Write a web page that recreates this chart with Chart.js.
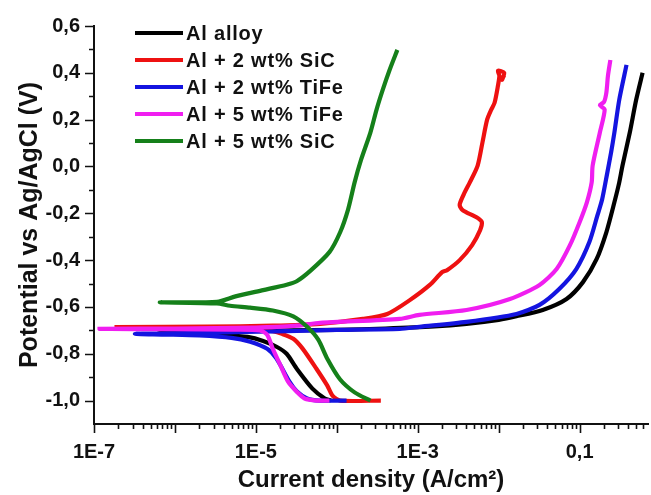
<!DOCTYPE html>
<html>
<head>
<meta charset="utf-8">
<script src="https://cdn.jsdelivr.net/npm/chart.js@4.4.1/dist/chart.umd.min.js"></script>
<style>
  html, body { margin: 0; padding: 0; background: #fff; }
  #wrap { width: 651px; height: 495px; }
</style>
</head>
<body>
<div id="wrap"><canvas id="chart"></canvas></div>
<script>
// series labels and colours
const seriesLabels = ['Al alloy', 'Al + 2 wt% SiC', 'Al + 2 wt% TiFe', 'Al + 5 wt% TiFe', 'Al + 5 wt% SiC'];
const seriesColors = ['#000000', '#ee1111', '#1414e0', '#f01ef0', '#15801a'];

// axis ticks
const xTickVals = [1e-7, 1e-5, 1e-3, 1e-1];
const xTickLabels = ['1E-7', '1E-5', '1E-3', '0,1'];
const yTickVals = [-1.0, -0.8, -0.6, -0.4, -0.2, 0.0, 0.2, 0.4, 0.6];
const yTickLabels = ['-1,0', '-0,8', '-0,6', '-0,4', '-0,2', '0,0', '0,2', '0,4', '0,6'];

// Al alloy: current density (A/cm2) and potential (V), in scan order
const alloyI = [8.5e-5, 7.1e-5, 5.0e-5, 3.2e-5, 2.4e-5, 1.8e-5, 1.23e-5, 7.9e-6, 4.0e-6, 1.6e-6, 6.3e-7,
  1.6e-6, 6.3e-6, 2.5e-5, 1.0e-4, 4.0e-4, 1.6e-3, 4.0e-3, 1.0e-2, 1.66e-2, 3.5e-2, 6.9e-2, 0.11, 0.162, 0.214, 0.269, 0.309, 0.339, 0.417, 0.50, 0.60];
const alloyE = [-1.0, -0.991, -0.949, -0.864, -0.80, -0.77, -0.745, -0.728, -0.72, -0.715, -0.712,
  -0.709, -0.705, -0.70, -0.698, -0.692, -0.683, -0.672, -0.655, -0.640, -0.613, -0.566, -0.494, -0.396, -0.281, -0.153, -0.068, 0.004, 0.145, 0.285, 0.40];

// Al + 2 wt% SiC
const sic2I = [3.5e-4, 1.1e-4, 8.9e-5, 7.6e-5, 5.6e-5, 3.8e-5, 2.9e-5, 2.1e-5, 1.62e-5, 1.0e-5, 2.5e-6, 1.9e-7,
  2.5e-6, 1.62e-5, 6.2e-5, 2.1e-4, 4.2e-4, 7.9e-4, 1.41e-3, 2.0e-3, 2.3e-3, 3.3e-3, 4.7e-3, 5.9e-3, 6.2e-3, 5.6e-3,
  4.8e-3, 4.0e-3, 3.5e-3, 3.3e-3, 3.8e-3, 4.4e-3, 5.5e-3, 6.3e-3, 7.2e-3, 8.1e-3, 8.9e-3, 9.8e-3, 1.02e-2, 9.8e-3, 1.17e-2, 1.1e-2, 1.17e-2];
const sic2E = [-1.0, -1.0, -0.98, -0.935, -0.864, -0.779, -0.736, -0.715, -0.704, -0.695, -0.690, -0.686,
  -0.684, -0.680, -0.672, -0.651, -0.630, -0.572, -0.506, -0.451, -0.443, -0.40, -0.336, -0.272, -0.238, -0.222,
  -0.209, -0.196, -0.183, -0.162, -0.111, -0.068, 0.004, 0.102, 0.200, 0.243, 0.272, 0.345, 0.387, 0.409, 0.40, 0.37, 0.39];

// Al + 2 wt% TiFe
const tife2I = [1.32e-4, 6.2e-5, 4.3e-5, 3.2e-5, 2.6e-5, 1.8e-5, 1.38e-5, 8.5e-6, 5.0e-6, 2.0e-6, 7.9e-7, 3.2e-7,
  7.9e-7, 3.2e-6, 1.0e-5, 3.2e-5, 1.0e-4, 6.0e-4, 1.05e-3, 4.0e-3, 1.66e-2, 3.2e-2, 5.6e-2, 9.1e-2, 0.132, 0.166, 0.19, 0.219, 0.245, 0.269, 0.309, 0.38];
const tife2E = [-1.0, -1.0, -0.991, -0.96, -0.919, -0.821, -0.779, -0.749, -0.732, -0.722, -0.718, -0.715,
  -0.713, -0.710, -0.706, -0.702, -0.698, -0.694, -0.685, -0.664, -0.630, -0.591, -0.523, -0.438, -0.323, -0.209, -0.14, -0.03, 0.06, 0.145, 0.285, 0.434];

// Al + 5 wt% TiFe
const tife5I = [8.1e-5, 5.6e-5, 4.0e-5, 3.2e-5, 2.5e-5, 2.0e-5, 1.62e-5, 1.38e-5, 1.12e-5, 5.0e-6, 1.0e-6, 1.17e-7,
  1.0e-6, 1.0e-5, 3.2e-5, 6.2e-5, 6.0e-4, 1.05e-3, 4.0e-3, 1.38e-2, 3.2e-2, 5.2e-2, 7.6e-2, 0.1, 0.123, 0.141, 0.145, 0.178, 0.204, 0.178, 0.2, 0.214, 0.224, 0.24];
const tife5E = [-1.0, -1.0, -0.991, -0.962, -0.919, -0.847, -0.779, -0.719, -0.700, -0.697, -0.695, -0.694,
  -0.692, -0.688, -0.680, -0.668, -0.651, -0.634, -0.613, -0.566, -0.506, -0.438, -0.336, -0.238, -0.153, -0.068, 0.004, 0.145, 0.243, 0.262, 0.275, 0.315, 0.387, 0.455];

// Al + 5 wt% SiC
const sic5I = [2.6e-4, 1.66e-4, 1.1e-4, 7.6e-5, 5.9e-5, 4.3e-5, 2.9e-5, 1.62e-5, 8.5e-6, 4.8e-6, 3.3e-6, 6.5e-7,
  3.3e-6, 5.6e-6, 1.23e-5, 2.4e-5, 3.2e-5, 4.7e-5, 8.1e-5, 1.1e-4, 1.38e-4, 1.66e-4, 2.0e-4, 2.6e-4, 3.1e-4, 3.7e-4, 4.5e-4, 5.6e-4];
const sic5E = [-1.0, -0.965, -0.91, -0.82, -0.74, -0.685, -0.64, -0.615, -0.603, -0.595, -0.585, -0.580,
  -0.578, -0.555, -0.528, -0.505, -0.490, -0.446, -0.366, -0.281, -0.183, -0.068, 0.030, 0.145, 0.243, 0.328, 0.413, 0.498];

const seriesI = [alloyI, sic2I, tife2I, tife5I, sic5I];
const seriesE = [alloyE, sic2E, tife2E, tife5E, sic5E];
// drawing order: lower number ends up on top
const drawOrder = [4, 3, 2, 1, 0];

const datasets = seriesLabels.map((label, k) => ({
  label: label,
  data: seriesI[k].map((v, i) => ({ x: v, y: seriesE[k][i] })),
  borderColor: seriesColors[k],
  backgroundColor: seriesColors[k],
  borderWidth: 4.2,
  pointRadius: 0,
  showLine: true,
  tension: 0.25,
  order: drawOrder[k]
}));

// minor/major tick marks drawn outward of the axes
const tickMarks = {
  id: 'tickMarks',
  afterDraw(chart) {
    const ctx = chart.ctx;
    const xs = chart.scales.x, ys = chart.scales.y;
    const area = chart.chartArea;
    ctx.save();
    ctx.strokeStyle = '#111';
    ctx.lineWidth = 1.6;
    ctx.beginPath();
    for (let d = -7; d <= 0; d++) {
      for (let m = 1; m <= 9; m++) {
        const v = m * Math.pow(10, d);
        if (v < xs.min * 0.999 || v > xs.max) continue;
        const px = Math.round(xs.getPixelForValue(v)) + 0.5;
        const len = m === 1 ? 9 : 5;
        ctx.moveTo(px, area.bottom);
        ctx.lineTo(px, area.bottom + len);
      }
    }
    for (let t = -10; t <= 6; t++) {
      const v = t / 10;
      const py = Math.round(ys.getPixelForValue(v)) + 0.5;
      const len = (t % 2 === 0) ? 9 : 5;
      ctx.moveTo(area.left, py);
      ctx.lineTo(area.left - len, py);
    }
    ctx.stroke();
    ctx.restore();
  }
};

// legend drawn inside the plot, top-left
const insideLegend = {
  id: 'insideLegend',
  afterDraw(chart) {
    const ctx = chart.ctx;
    ctx.save();
    ctx.font = 'bold 20px "Liberation Sans", Arial, sans-serif';
    ctx.letterSpacing = '0.8px';
    ctx.textBaseline = 'middle';
    ctx.textAlign = 'left';
    chart.data.datasets.forEach((ds, i) => {
      const y = 33 + i * 27;
      ctx.strokeStyle = ds.borderColor;
      ctx.lineWidth = 4;
      ctx.beginPath();
      ctx.moveTo(135, y);
      ctx.lineTo(183, y);
      ctx.stroke();
      ctx.fillStyle = '#111';
      ctx.fillText(ds.label, 186, y + 1);
    });
    ctx.restore();
  }
};

new Chart(document.getElementById('chart'), {
  type: 'scatter',
  data: { datasets: datasets },
  options: {
    responsive: true,
    maintainAspectRatio: false,
    animation: false,
    layout: { padding: { top: 23, right: 3, left: 0, bottom: 0 } },
    plugins: { legend: { display: false }, tooltip: { enabled: false } },
    scales: {
      x: {
        type: 'logarithmic',
        min: 1e-7,
        max: 0.7,
        afterBuildTicks: (scale) => { scale.ticks = xTickVals.map(v => ({ value: v })); },
        afterFit: (scale) => { scale.height = 71; },
        grid: { display: false, drawTicks: false },
        border: { display: true, color: '#111', width: 2 },
        ticks: {
          autoSkip: false,
          maxRotation: 0,
          padding: 16,
          color: '#111',
          font: { family: '"Liberation Sans", Arial, sans-serif', size: 20, weight: 'bold' },
          callback: (value, index) => xTickLabels[index]
        },
        title: {
          display: true,
          text: 'Current density (A/cm²)',
          color: '#111',
          padding: { top: 0, bottom: 0 },
          font: { family: '"Liberation Sans", Arial, sans-serif', size: 24, weight: 'bold' }
        }
      },
      y: {
        min: -1.1,
        max: 0.6,
        afterBuildTicks: (scale) => { scale.ticks = yTickVals.map(v => ({ value: v })); },
        afterFit: (scale) => { scale.width = 94; },
        grid: { display: false, drawTicks: false },
        border: { display: true, color: '#111', width: 2 },
        ticks: {
          padding: 14,
          color: '#111',
          font: { family: '"Liberation Sans", Arial, sans-serif', size: 20, weight: 'bold' },
          callback: (value, index) => yTickLabels[index]
        },
        title: {
          display: true,
          text: 'Potential vs Ag/AgCl (V)',
          color: '#111',
          padding: { top: 15, bottom: 0 },
          font: { family: '"Liberation Sans", Arial, sans-serif', size: 25, weight: 'bold' }
        }
      }
    }
  },
  plugins: [tickMarks, insideLegend]
});
</script>
</body>
</html>
